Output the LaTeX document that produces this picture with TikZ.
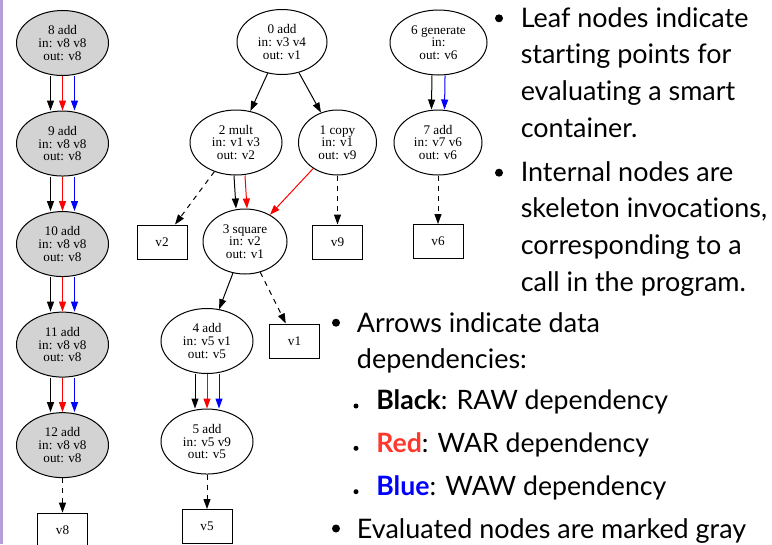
\documentclass[tikz,border=0pt]{standalone}
\usepackage{fontspec}
\setmainfont{Liberation Serif}
\newfontfamily\notefont[Ligatures=NoCommon]{Lato}
\usetikzlibrary{arrows.meta, positioning, shapes.geometric}
\definecolor{evalgray}{RGB}{211,211,211}
\definecolor{barpurple}{RGB}{180,160,215}
\definecolor{notered}{RGB}{255,56,46}
\definecolor{noteblue}{RGB}{0,0,255}
\tikzset{
  task/.style={ellipse,draw,line width=0.75pt,align=center,inner sep=0pt,
    minimum width=69pt,minimum height=48.75pt,font=\fontsize{9.9}{9.5}\selectfont},
  done/.style={task,fill=evalgray},
  value/.style={rectangle,draw,line width=0.75pt,inner sep=0pt,
    minimum width=37.5pt,minimum height=25.5pt,font=\fontsize{9.9}{9.5}\selectfont},
  line/.style={-{Triangle[length=7.5pt,width=5.25pt]},line width=0.75pt},
  raw/.style={line},
  war/.style={line,red},
  waw/.style={line,blue},
  result/.style={line,dash pattern=on 3.75pt off 3.75pt},
  note/.style={anchor=base west,inner sep=0pt,font=\notefont\fontsize{20.2}{21}\selectfont},
  subnote/.style={note,font=\notefont\fontsize{20}{21}\selectfont}
}

\begin{document}
\begin{tikzpicture}[x=0.75pt,y=-0.75pt,node distance=25.9pt]
\useasboundingbox (0,0) rectangle (772,544);
\fill[barpurple] (0,0) rectangle (2.7,544);

% evaluated chain
\node[done] (n8) at (62.5,43) {8 add\\in: v8 v8\\out: v8};
\node[done, below=of n8] (n9) {9 add\\in: v8 v8\\out: v8};
\node[done, below=of n9] (n10) {10 add\\in: v8 v8\\out: v8};
\node[done, below=of n10] (n11) {11 add\\in: v8 v8\\out: v8};
\node[done, below=of n11] (n12) {12 add\\in: v8 v8\\out: v8};
\node[value, below=of n12] (v8) {v8};
\foreach \a/\b in {n8/n9,n9/n10,n10/n11,n11/n12} {
  \draw[raw] ([xshift=-9pt]\a.south) -- ([xshift=-9pt]\b.north);
  \draw[war] (\a) -- (\b);
  \draw[waw] ([xshift=9pt]\a.south) -- ([xshift=9pt]\b.north);
}
\draw[result] (n12) -- (v8);

% main tree
\node[task, minimum width=67.5pt] (n0) at (282,42) {0 add\\in: v3 v4\\out: v1};
\node[task] (n2) at (236,142.5) {2 mult\\in: v1 v3\\out: v2};
\node[task, minimum width=58.5pt] (n1) at (337.5,142.5) {1 copy\\in: v1\\out: v9};
\node[task, minimum width=63pt] (n3) at (245,241.5) {3 square\\in: v2\\out: v1};
\node[value] (v2) at (162,242) {v2};
\node[value] (v9) at (337.5,242) {v9};
\node[task] (n4) at (207,341) {4 add\\in: v5 v1\\out: v5};
\node[value] (v1) at (294.5,341) {v1};
\node[task, below=of n4] (n5) {5 add\\in: v5 v9\\out: v5};
\node[value, below=of n5] (v5) {v5};
\draw[raw] (n0) -- (n2);
\draw[raw] (n0) -- (n1);
\draw[raw] ([xshift=-1.5pt]n2.south) -- ([xshift=-6.75pt]n3.north);
\draw[war] ([xshift=6.75pt]n2.south) -- ([xshift=1.5pt]n3.north);
\draw[war] (n1) -- (n3);
\draw[result] (n2) -- (v2);
\draw[result] (n1) -- (v9);
\draw[raw] (n3) -- (n4);
\draw[result] (n3) -- (v1);
\draw[raw] ([xshift=-9pt]n4.south) -- ([xshift=-9pt]n5.north);
\draw[war] (n4) -- (n5);
\draw[waw] ([xshift=9pt]n4.south) -- ([xshift=9pt]n5.north);
\draw[result] (n5) -- (v5);

% generate chain
\node[task, minimum width=72.75pt] (n6) at (438.5,42.5) {6 generate\\in:\\out: v6};
\node[task, minimum width=66pt] (n7) at (438,142.5) {7 add\\in: v7 v6\\out: v6};
\node[value] (v6) at (438,241.5) {v6};
\draw[raw] ([xshift=-4.9pt]n6.south) -- ([xshift=-4.9pt]n7.north);
\draw[waw] ([xshift=4.9pt]n6.south) -- ([xshift=4.9pt]n7.north);
\draw[result] (n7) -- (v6);

% legend
\fill (499,18.3) circle[radius=4];
\foreach \s [count=\i from 0] in {Leaf nodes indicate, starting points for, evaluating a smart, container.}
  \node[note] (leaf\i) at (520.5,27+36.8*\i) {\s};
\fill (499,172.7) circle[radius=4];
\foreach \s [count=\i from 0] in {Internal nodes are, {skeleton invocations,}, corresponding to a, call in the program.}
  \node[note] (inner\i) at (520.5,181+36.8*\i) {\s};
\fill (336,322.7) circle[radius=4];
\node[note] (arrows0) at (356.7,332) {Arrows indicate data};
\node[note] (arrows1) at (356.7,368.8) {dependencies:};
\fill (356,406) circle[radius=2.5];
\node[subnote] (black) at (376,409.5) {\textbf{Black}: RAW dependency};
\fill (356,448.3) circle[radius=2.5];
\node[subnote] (red) at (376,452.5) {\textbf{\textcolor{notered}{Red}}: WAR dependency};
\fill (356,491.7) circle[radius=2.5];
\node[subnote] (blue) at (376,495) {\textbf{\textcolor{noteblue}{Blue}}: WAW dependency};
\fill (336,528.5) circle[radius=4];
\node[note] (gray) at (356.7,538) {Evaluated nodes are marked gray};
\end{tikzpicture}
\end{document}
